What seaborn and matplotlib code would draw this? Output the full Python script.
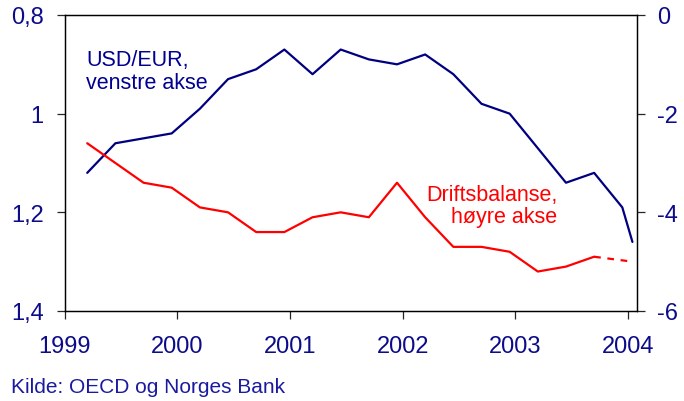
import pandas as pd
import seaborn as sns
import matplotlib.pyplot as plt

# quarterly observations, last point is a single month (jan 2004)
dates = [1999.20, 1999.45, 1999.70, 1999.95, 2000.20, 2000.45, 2000.70, 2000.95,
         2001.20, 2001.45, 2001.70, 2001.95, 2002.20, 2002.45, 2002.70, 2002.95,
         2003.20, 2003.45, 2003.70, 2003.95, 2004.04]
usd_eur = [1.12, 1.06, 1.05, 1.04, 0.99, 0.93, 0.91, 0.87, 0.92, 0.87, 0.89,
           0.90, 0.88, 0.92, 0.98, 1.00, 1.07, 1.14, 1.12, 1.19, 1.26]
# current account, % of GDP; last value is a projection (dashed)
drift_dates = [1999.20, 1999.45, 1999.70, 1999.95, 2000.20, 2000.45, 2000.70, 2000.95,
               2001.20, 2001.45, 2001.70, 2001.95, 2002.20, 2002.45, 2002.70, 2002.95,
               2003.20, 2003.45, 2003.70, 2004.04]
drift = [-2.6, -3.0, -3.4, -3.5, -3.9, -4.0, -4.4, -4.4, -4.1, -4.0, -4.1,
         -3.4, -4.1, -4.7, -4.7, -4.8, -5.2, -5.1, -4.9, -5.0]
n_actual = 19

year_ticks = [1999, 2000, 2001, 2002, 2003, 2004]
left_ticks = [0.8, 1.0, 1.2, 1.4]
left_labels = ['0,8', '1', '1,2', '1,4']
right_ticks = [0, -2, -4, -6]

navy = '#0c0c8a'
red = '#ff0000'

sns.set_style("ticks")
plt.rcParams['font.family'] = ['Liberation Sans', 'DejaVu Sans']

df_usd = pd.DataFrame({'dato': dates, 'kurs': usd_eur})
df_act = pd.DataFrame({'dato': drift_dates[:n_actual], 'saldo': drift[:n_actual]})
df_prog = pd.DataFrame({'dato': drift_dates[n_actual - 1:], 'saldo': drift[n_actual - 1:]})

fig = plt.figure(figsize=(6.84, 4.02), dpi=100)
ax = fig.add_axes([0.0946, 0.2239, 0.8371, 0.7363])
ax2 = ax.twinx()

sns.lineplot(data=df_usd, x='dato', y='kurs', ax=ax, color='#000080', linewidth=1.6)
sns.lineplot(data=df_act, x='dato', y='saldo', ax=ax2, color=red, linewidth=1.6)
sns.lineplot(data=df_prog, x='dato', y='saldo', ax=ax2, color=red, linewidth=1.6,
             linestyle=(0, (3, 3)))

ax.set_xlim(1999, 2004.083)
ax.set_ylim(1.4, 0.8)
ax2.set_ylim(-6, 0)
ax.set_xticks(year_ticks)
ax.set_xticklabels([str(y) for y in year_ticks])
ax.set_yticks(left_ticks)
ax.set_yticklabels(left_labels)
ax2.set_yticks(right_ticks)
ax2.set_yticklabels([str(v) for v in right_ticks])
for a in (ax, ax2):
    a.set_xlabel('')
    a.set_ylabel('')
    for s in a.spines.values():
        s.set_visible(True)
        s.set_linewidth(0.9)
        s.set_color('black')

ax.tick_params(axis='x', direction='out', length=6, width=0.9, pad=11,
               labelsize=17, labelcolor=navy)
ax.tick_params(axis='y', direction='out', length=6, width=0.9, pad=9,
               labelsize=17, labelcolor=navy)
ax2.tick_params(axis='y', direction='out', length=6, width=0.9, pad=8,
                labelsize=17, labelcolor=navy)

ax.text(0.037, 0.885, 'USD/EUR,\nvenstre akse', transform=ax.transAxes,
        ha='left', va='top', fontsize=15.5, color='#000090', linespacing=1.1)
ax.text(0.86, 0.43, 'Driftsbalanse,\nhøyre akse', transform=ax.transAxes,
        ha='right', va='top', multialignment='right', fontsize=15.5,
        color=red, linespacing=1.1)

fig.text(0.016, 0.022, 'Kilde: OECD og Norges Bank', ha='left', va='baseline',
         fontsize=15, color='#1a1aa0')

fig.savefig('out.png', dpi=100)
